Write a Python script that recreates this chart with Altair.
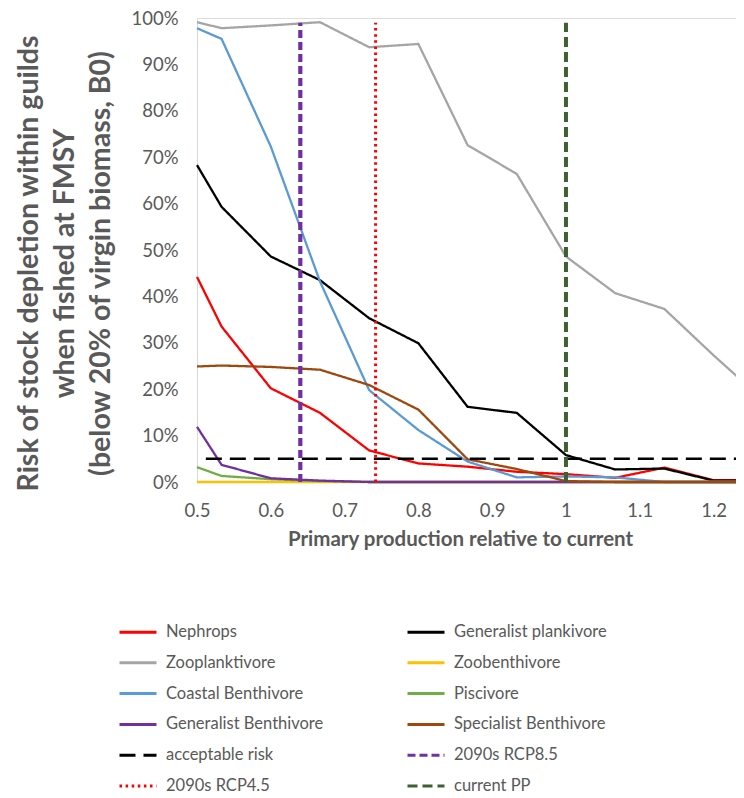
import altair as alt
import pandas as pd

# Primary production relative to current (x) and risk values (%)
x_vals = [0.5, 0.5333, 0.6, 0.6667, 0.7333, 0.8, 0.8667, 0.9333, 1.0, 1.0667, 1.1333, 1.2, 1.24]

nephrops = [44.2, 33.5, 20.2, 14.9, 6.8, 4.0, 3.3, 2.2, 1.7, 0.9, 3.1, 0.4, 0.4]
generalist_plankivore = [68.3, 59.3, 48.6, 43.5, 35.3, 29.9, 16.2, 14.9, 5.8, 2.7, 2.9, 0.3, 0.3]
zooplanktivore = [99.1, 97.8, 98.4, 99.1, 93.7, 94.4, 72.6, 66.4, 48.6, 40.7, 37.3, 27.3, 21.6]
zoobenthivore = [0, 0, 0, 0, 0, 0, 0, 0, 0, 0, 0, 0, 0]
coastal_benthivore = [97.8, 95.5, 72.3, 43.2, 19.8, 11.2, 4.4, 1.0, 1.2, 1.0, 0, 0, 0]
piscivore = [3.2, 1.3, 0.6, 0.2, 0, 0, 0, 0, 0, 0, 0, 0, 0]
generalist_benthivore = [11.9, 3.7, 0.8, 0.3, 0, 0, 0, 0, 0, 0, 0, 0, 0]
specialist_benthivore = [24.9, 25.1, 24.8, 24.2, 20.9, 15.6, 4.9, 2.8, 0.2, 0, 0, 0, 0]

acceptable_risk_x = [0.512, 1.24]
acceptable_risk_y = [5, 5]
rcp85_x = 0.64
rcp45_x = 0.742
current_pp_x = 1.0
vline_y = [0, 99]

series_names = ["Nephrops", "Generalist plankivore", "Zooplanktivore", "Zoobenthivore",
                "Coastal Benthivore", "Piscivore", "Generalist Benthivore", "Specialist Benthivore",
                "acceptable risk", "2090s RCP8.5", "2090s RCP4.5", "current PP"]
series_colors = ["#FF0000", "#000000", "#A5A5A5", "#FFC000",
                 "#5B9BD5", "#70AD47", "#7030A0", "#9E480E",
                 "#000000", "#7030A0", "#FF0000", "#3F6130"]
series_dash = [[1, 0], [1, 0], [1, 0], [1, 0],
               [1, 0], [1, 0], [1, 0], [1, 0],
               [16, 8], [8, 4], [2.5, 3.6], [10, 5]]

guild_values = [nephrops, generalist_plankivore, zooplanktivore, zoobenthivore,
                coastal_benthivore, piscivore, generalist_benthivore, specialist_benthivore]

rows = []
for name, vals in zip(series_names[:8], guild_values):
    for xv, yv in zip(x_vals, vals):
        rows.append({"series": name, "x": xv, "y": yv / 100.0, "kind": "guild"})
for xv, yv in zip(acceptable_risk_x, acceptable_risk_y):
    rows.append({"series": "acceptable risk", "x": xv, "y": yv / 100.0, "kind": "risk"})
for name, xv, k in [("2090s RCP8.5", rcp85_x, "v85"), ("2090s RCP4.5", rcp45_x, "v45"),
                    ("current PP", current_pp_x, "vpp")]:
    for yv in vline_y:
        rows.append({"series": name, "x": xv, "y": yv / 100.0, "kind": k})
df = pd.DataFrame(rows)

FONT = "Lato"
GREY = "#595959"

x_enc = alt.X("x:Q", scale=alt.Scale(domain=[0.5, 1.2304], nice=False, zero=False),
              axis=alt.Axis(values=[0.5, 0.6, 0.7, 0.8, 0.9, 1.0, 1.1, 1.2],
                            labelExpr="datum.value == 1 ? '1' : format(datum.value, '.1f')",
                            title="Primary production relative to current",
                            grid=False, ticks=False, domainColor="#D9D9D9",
                            labelFlush=False,
                            labelFont=FONT, labelFontSize=18.5, labelColor=GREY,
                            labelPadding=19, titleFont=FONT, titleFontSize=20.5,
                            titleFontWeight="bold", titleColor=GREY, titlePadding=10,
                            titleX=263))
y_enc = alt.Y("y:Q", scale=alt.Scale(domain=[0, 1], nice=False),
              axis=alt.Axis(values=[i / 10 for i in range(11)], format=".0%",
                            title=["Risk of stock depletion within guilds",
                                   "when fished at FMSY",
                                   "(below 20% of virgin biomass,  B0)"],
                            grid=False, ticks=False, domainColor="#D9D9D9",
                            labelFlush=False,
                            labelFont=FONT, labelFontSize=18.5, labelColor=GREY,
                            labelPadding=19, titleFont=FONT, titleFontSize=28.5,
                            titleFontWeight="bold", titleColor=GREY,
                            titleLineHeight=36, titleAngle=270, titleAlign="center",
                            titleBaseline="top", titleX=-183, titleY=245))

legend_cfg = dict(title=None, orient="none", legendX=-79, legendY=594,
                  direction="horizontal", columns=2, columnPadding=77, rowPadding=1.8,
                  symbolType="stroke", symbolSize=1369, symbolStrokeWidth=3,
                  labelFont=FONT, labelFontSize=16.5, labelColor=GREY, labelOffset=8,
                  labelLimit=300, padding=0)
color_enc = alt.Color("series:N",
                      scale=alt.Scale(domain=series_names, range=series_colors),
                      legend=alt.Legend(**legend_cfg))
dash_enc = alt.StrokeDash("series:N",
                          scale=alt.Scale(domain=series_names, range=series_dash),
                          legend=alt.Legend(**legend_cfg))

base = alt.Chart(df).encode(x=x_enc, y=y_enc, color=color_enc, strokeDash=dash_enc,
                            detail="series:N")

guilds = base.transform_filter(alt.datum.kind == "guild").mark_line(strokeWidth=2.3)
risk = base.transform_filter(alt.datum.kind == "risk").mark_line(strokeWidth=2.6)
v85 = base.transform_filter(alt.datum.kind == "v85").mark_line(strokeWidth=4.2)
v45 = base.transform_filter(alt.datum.kind == "v45").mark_line(strokeWidth=3.0)
vpp = base.transform_filter(alt.datum.kind == "vpp").mark_line(strokeWidth=4.0)

chart = alt.layer(guilds, risk, v85, v45, vpp).properties(
    width=539, height=464,
    autosize=alt.AutoSizeParams(type="none"),
    padding={"left": 189, "top": 10, "right": 0, "bottom": 316},
).configure_view(stroke=None).configure(font=FONT)

chart.save("out.html", embed_options={"renderer": "svg", "actions": False})
